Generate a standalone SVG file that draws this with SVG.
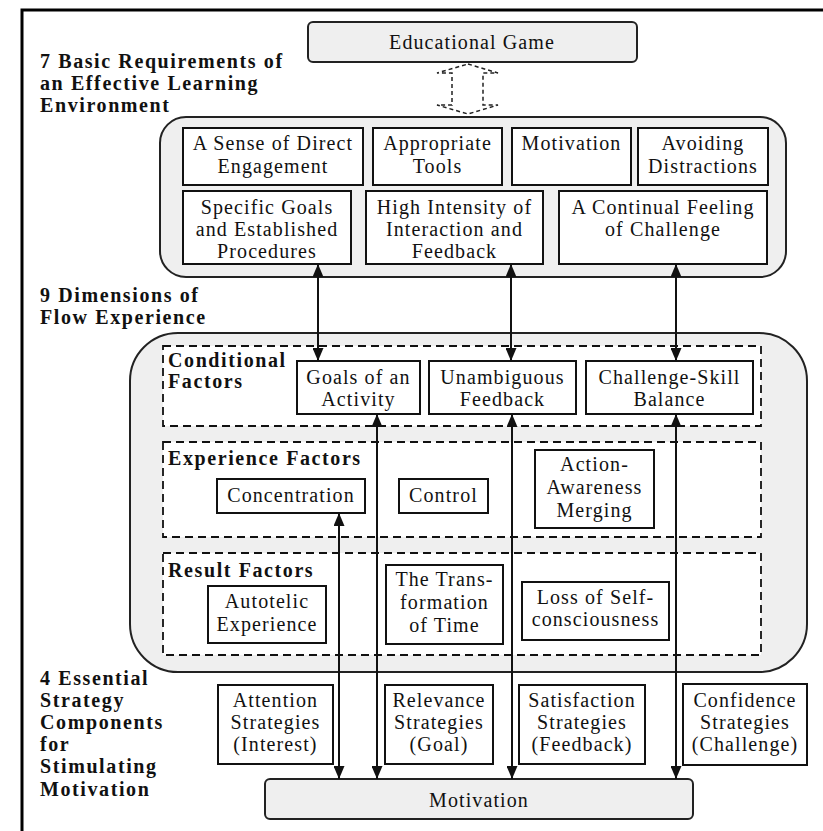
<svg xmlns="http://www.w3.org/2000/svg" width="823" height="831" viewBox="0 0 823 831">
<defs>
<style>
.t{font-family:'Liberation Serif','Times New Roman','DejaVu Serif',serif;font-size:20px;letter-spacing:1.1px;fill:#111;text-anchor:middle}
.h{font-family:'Liberation Serif','Times New Roman','DejaVu Serif',serif;font-size:20px;letter-spacing:1.6px;font-weight:bold;fill:#111}
.box{fill:#fff;stroke:#111;stroke-width:2}
.cont{fill:#efefef;stroke:#222;stroke-width:2}
.sec{fill:#fff;stroke:#111;stroke-width:1.8;stroke-dasharray:8,5}
.c{stroke:#111;stroke-width:2;fill:none;marker-start:url(#ah);marker-end:url(#ah)}
</style>
<marker id="ah" markerUnits="userSpaceOnUse" markerWidth="13" markerHeight="11" refX="13" refY="5.5" orient="auto-start-reverse"><path d="M0,0 L13,5.5 L0,11 z" fill="#111"/></marker>
</defs>
<rect x="0" y="0" width="823" height="831" fill="#fff"/>
<rect x="22" y="10" width="830" height="840" fill="none" stroke="#000" stroke-width="3"/>

<g id="titles">
<text class="h" x="40" y="68">7 Basic Requirements of</text>
<text class="h" x="40" y="90">an Effective Learning</text>
<text class="h" x="40" y="112">Environment</text>
<text class="h" x="40" y="302">9 Dimensions of</text>
<text class="h" x="40" y="324">Flow Experience</text>
<text class="h" x="40" y="685">4 Essential</text>
<text class="h" x="40" y="707">Strategy</text>
<text class="h" x="40" y="729">Components</text>
<text class="h" x="40" y="751">for</text>
<text class="h" x="40" y="773">Stimulating</text>
<text class="h" x="40" y="796">Motivation</text>
</g>

<g id="educational-game"><rect x="308" y="22" width="329" height="40" rx="5" class="cont"/><text class="t" x="472" y="49">Educational Game</text></g>
<g id="dashed-link"><polygon points="468,64 498,73 483,73 483,105 498,105 468,114 437,105 452,105 452,73 437,73" fill="none" stroke="#222" stroke-width="1.5" stroke-dasharray="4,3"/></g>

<g id="requirements"><rect x="160" y="117" width="626" height="160" rx="26" class="cont"/></g>
<g id="n-sense"><rect x="183" y="128" width="180" height="57" class="box"/><text class="t" x="273" y="150">A Sense of Direct</text><text class="t" x="273" y="173">Engagement</text></g>
<g id="n-tools"><rect x="373" y="128" width="129" height="57" class="box"/><text class="t" x="437.5" y="150">Appropriate</text><text class="t" x="437.5" y="173">Tools</text></g>
<g id="n-motivation1"><rect x="512" y="128" width="119" height="57" class="box"/><text class="t" x="571.5" y="150">Motivation</text></g>
<g id="n-avoid"><rect x="638" y="128" width="130" height="57" class="box"/><text class="t" x="703" y="150">Avoiding</text><text class="t" x="703" y="173">Distractions</text></g>
<g id="n-specific"><rect x="183" y="191" width="168" height="73" class="box"/><text class="t" x="267" y="214">Specific Goals</text><text class="t" x="267" y="236">and Established</text><text class="t" x="267" y="258">Procedures</text></g>
<g id="n-intensity"><rect x="366" y="191" width="177" height="73" class="box"/><text class="t" x="454.5" y="214">High Intensity of</text><text class="t" x="454.5" y="236">Interaction and</text><text class="t" x="454.5" y="258">Feedback</text></g>
<g id="n-continual"><rect x="559" y="191" width="208" height="73" class="box"/><text class="t" x="663" y="214">A Continual Feeling</text><text class="t" x="663" y="236">of Challenge</text></g>

<g id="flow"><rect x="130" y="333" width="677" height="339" rx="48" class="cont"/></g>
<g id="sec-conditional"><rect x="163" y="346" width="598" height="80" class="sec"/><text class="h" x="168" y="367">Conditional</text><text class="h" x="168" y="388">Factors</text></g>
<g id="sec-experience"><rect x="163" y="442" width="598" height="95" class="sec"/><text class="h" x="168" y="465">Experience Factors</text></g>
<g id="sec-result"><rect x="163" y="553" width="598" height="102" class="sec"/><text class="h" x="168" y="577">Result Factors</text></g>

<g id="n-goals"><rect x="297" y="361" width="123" height="53" class="box"/><text class="t" x="358.5" y="384">Goals of an</text><text class="t" x="358.5" y="406">Activity</text></g>
<g id="n-unamb"><rect x="429" y="361" width="147" height="53" class="box"/><text class="t" x="502.5" y="384">Unambiguous</text><text class="t" x="502.5" y="406">Feedback</text></g>
<g id="n-balance"><rect x="586" y="361" width="167" height="53" class="box"/><text class="t" x="669.5" y="384">Challenge-Skill</text><text class="t" x="669.5" y="406">Balance</text></g>
<g id="n-concentration"><rect x="217" y="479" width="148" height="34" class="box"/><text class="t" x="291" y="502">Concentration</text></g>
<g id="n-control"><rect x="399" y="479" width="89" height="34" class="box"/><text class="t" x="443.5" y="502">Control</text></g>
<g id="n-action"><rect x="535" y="450" width="119" height="78" class="box"/><text class="t" x="594.5" y="471">Action-</text><text class="t" x="594.5" y="494">Awareness</text><text class="t" x="594.5" y="517">Merging</text></g>
<g id="n-autotelic"><rect x="208" y="586" width="118" height="57" class="box"/><text class="t" x="267" y="608">Autotelic</text><text class="t" x="267" y="631">Experience</text></g>
<g id="n-time"><rect x="386" y="565" width="117" height="79" class="box"/><text class="t" x="444.5" y="586">The Trans-</text><text class="t" x="444.5" y="609">formation</text><text class="t" x="444.5" y="632">of Time</text></g>
<g id="n-loss"><rect x="522" y="582" width="147" height="58" class="box"/><text class="t" x="595.5" y="604">Loss of Self-</text><text class="t" x="595.5" y="626">consciousness</text></g>

<g id="n-attention"><rect x="218" y="685" width="115" height="79" class="box"/><text class="t" x="275.5" y="707">Attention</text><text class="t" x="275.5" y="729">Strategies</text><text class="t" x="275.5" y="751">(Interest)</text></g>
<g id="n-relevance"><rect x="385" y="685" width="108" height="79" class="box"/><text class="t" x="439" y="707">Relevance</text><text class="t" x="439" y="729">Strategies</text><text class="t" x="439" y="751">(Goal)</text></g>
<g id="n-satisfaction"><rect x="519" y="685" width="126" height="79" class="box"/><text class="t" x="582" y="707">Satisfaction</text><text class="t" x="582" y="729">Strategies</text><text class="t" x="582" y="751">(Feedback)</text></g>
<g id="n-confidence"><rect x="683" y="684" width="124" height="81" class="box"/><text class="t" x="745" y="707">Confidence</text><text class="t" x="745" y="729">Strategies</text><text class="t" x="745" y="751">(Challenge)</text></g>

<g id="n-motivation"><rect x="265" y="779" width="428" height="40" rx="5" class="cont"/><text class="t" x="479" y="807">Motivation</text></g>

<g id="connectors">
<path class="c" d="M318,264 L318,361"/>
<path class="c" d="M511,264 L511,361"/>
<path class="c" d="M676,264 L676,361"/>
<path class="c" d="M377,414 L377,779"/>
<path class="c" d="M512,414 L512,779"/>
<path class="c" d="M676,414 L676,779"/>
<path class="c" d="M339,513 L339,779"/>
</g>
</svg>
